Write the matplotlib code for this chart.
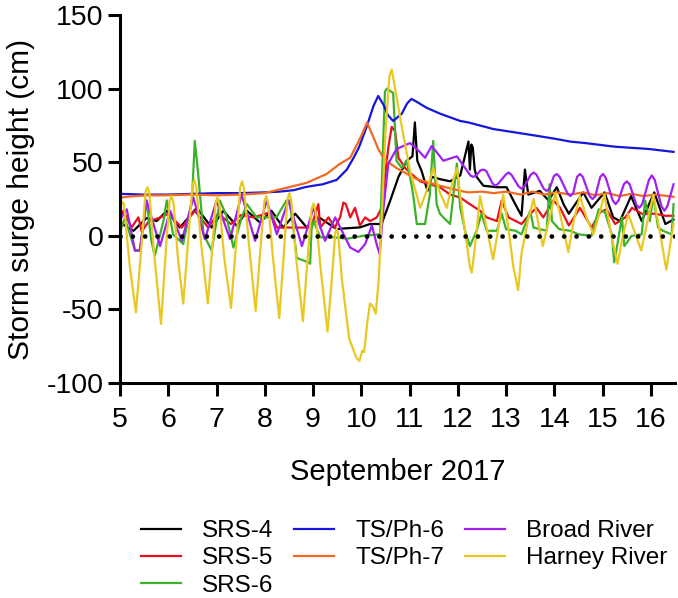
import numpy as np
import matplotlib
matplotlib.use("Agg")
import matplotlib.pyplot as plt

plt.rcParams['font.family'] = ['Liberation Sans', 'DejaVu Sans']
plt.rcParams['axes.unicode_minus'] = False

# ---------------------------------------------------------------
# data: (day of September 2017, surge in cm)
# ---------------------------------------------------------------
srs4 = [(5.0, 10), (5.14, 5.7), (5.28, 3.4), (5.55, 12), (5.76, 10), (5.97, 17), (6.24, 5.6),
        (6.59, 19), (6.9, 5.6), (7.14, 17), (7.42, 6.8), (7.63, 17), (7.9, 9), (8.14, 17),
        (8.38, 5.6), (8.63, 15), (8.87, 5.6), (9.15, 12), (9.49, 4.5), (9.64, 5), (9.97, 5.7),
        (10.18, 8), (10.42, 8), (10.6, 24), (10.77, 40), (10.94, 51), (11.06, 54), (11.11, 77),
        (11.16, 51), (11.25, 44), (11.37, 30.5), (11.46, 40), (11.63, 38.5), (11.84, 37),
        (12.05, 41), (12.22, 64), (12.25, 45), (12.28, 62), (12.31, 60), (12.35, 45), (12.39, 40),
        (12.53, 34), (12.81, 33), (13.01, 33), (13.19, 21.5), (13.32, 13.6), (13.39, 45),
        (13.46, 28), (13.7, 30.5), (13.88, 24), (14.05, 33), (14.19, 21.5), (14.3, 15),
        (14.6, 29.5), (14.77, 19), (15.04, 29.5), (15.22, 12.5), (15.36, 10), (15.59, 27),
        (15.81, 10), (16.07, 29.5), (16.3, 8), (16.47, 11)]

srs5 = [(5.0, 12.5), (5.07, 17), (5.24, 5.6), (5.38, 12.5), (5.45, 3), (5.6, 10), (5.8, 12),
        (6.0, 15), (6.28, 5.6), (6.55, 17), (6.83, 5.6), (7.03, 15), (7.3, 8), (7.5, 14),
        (7.77, 12.5), (8.11, 16), (8.25, 5.6), (8.8, 5.6), (8.92, 5.6), (9.0, 10), (9.11, 21.5),
        (9.15, 5.6), (9.32, 12.5), (9.45, 5.6), (9.56, 12.5), (9.63, 22.6), (9.68, 21.5),
        (9.77, 12.5), (9.87, 19), (9.97, 7), (10.08, 12.5), (10.18, 10), (10.32, 12.5),
        (10.42, 19), (10.49, 40), (10.56, 60), (10.63, 74), (10.7, 71), (10.77, 53), (10.91, 46),
        (11.04, 42), (11.22, 37), (11.42, 35), (11.63, 33), (11.84, 28), (12.05, 26),
        (12.25, 21.5), (12.46, 17), (12.6, 12.5), (12.81, 10), (12.91, 24), (13.05, 12.5),
        (13.32, 8), (13.46, 13.6), (13.63, 19), (13.77, 12.5), (13.98, 24), (14.12, 19),
        (14.3, 7), (14.53, 19), (14.77, 5.6), (14.95, 16), (15.08, 18), (15.26, 8), (15.47, 12.5),
        (15.61, 19), (15.81, 15), (16.09, 15), (16.3, 13.6), (16.47, 13.6)]

srs6 = [(5.0, 3), (5.1, 12), (5.31, -10), (5.41, -10), (5.55, 24), (5.65, -3.4), (5.72, -13.6),
        (5.9, 10), (5.97, 24), (6.1, 1), (6.31, -5.6), (6.49, 24), (6.55, 64.5), (6.62, 42),
        (6.73, 1), (6.9, -10), (7.07, 24), (7.2, 14), (7.35, -8), (7.52, 12.5), (7.63, 21.5),
        (7.83, 12.5), (8.04, 12.5), (8.24, 12.5), (8.45, 24), (8.51, 24), (8.59, 5.6),
        (8.66, -15), (8.9, -18), (8.94, -19), (8.97, 5), (9.01, 10), (9.15, -1), (9.42, -1),
        (9.7, -2), (10.04, 0), (10.39, 1), (10.45, 60), (10.49, 98), (10.53, 100), (10.66, 97),
        (10.73, 51), (10.84, 46), (10.94, 51), (11.04, 35), (11.09, 24), (11.15, 8), (11.32, 8),
        (11.42, 28), (11.49, 64.5), (11.56, 21.5), (11.63, 15), (11.7, 12.5), (11.84, 8),
        (11.94, 37), (11.98, 49), (12.05, 19), (12.15, 3.4), (12.25, -7), (12.39, 3.4),
        (12.49, 15), (12.6, 3.4), (12.81, 3.4), (12.91, 15), (13.0, 4.5), (13.2, 3.4),
        (13.32, 1), (13.5, 17), (13.57, 5.6), (13.84, 3.4), (13.9, 35), (13.95, 10),
        (14.1, 4.5), (14.33, 3.4), (14.5, 1), (14.77, 0), (14.92, 18), (15.05, 16), (15.19, 1),
        (15.24, -18), (15.3, -7), (15.4, 12.5), (15.45, -7), (15.6, 0), (15.81, 1), (15.88, 24),
        (15.98, 10), (16.05, 27), (16.15, 5.6), (16.25, 3.4), (16.43, 1), (16.47, 21.5)]

tsph6 = [(5.0, 28.5), (5.5, 28), (6.0, 28), (6.5, 28.5), (7.0, 29), (7.5, 29), (8.0, 29.5),
         (8.3, 30), (8.6, 31), (8.83, 33), (9.0, 34), (9.2, 35), (9.49, 38), (9.7, 45),
         (9.84, 53), (9.95, 60), (10.11, 74), (10.25, 88), (10.35, 95), (10.46, 89), (10.55, 82),
         (10.66, 78), (10.84, 83), (10.95, 90), (11.04, 93), (11.15, 91), (11.35, 87),
         (11.63, 83), (12.05, 78), (12.22, 77), (12.74, 72.5), (13.43, 69), (14.0, 66),
         (14.33, 64), (14.64, 63), (15.26, 60.5), (15.95, 59), (16.47, 57)]

tsph7 = [(5.0, 26), (5.3, 27), (5.6, 27.5), (6.0, 27.5), (6.5, 28), (7.0, 27.5), (7.5, 28),
         (8.0, 29), (8.18, 30.5), (8.5, 33), (8.87, 36), (9.28, 42), (9.56, 49), (9.77, 53),
         (9.91, 62), (10.0, 68), (10.12, 77), (10.25, 67), (10.35, 59), (10.46, 53), (10.6, 49),
         (10.73, 46), (11.15, 38.5), (11.63, 34), (12.05, 30.5), (12.22, 29.5), (12.5, 30),
         (12.74, 29), (13.0, 30), (13.3, 28), (13.55, 30), (13.8, 28), (14.05, 29.5), (14.33, 28),
         (14.6, 29.5), (14.85, 27.5), (15.1, 29), (15.35, 27), (15.6, 28.5), (15.85, 27),
         (16.1, 28), (16.47, 26.5)]

broad = [(5.0, 10), (5.03, 12.5), (5.14, 18), (5.31, -10), (5.41, -10), (5.55, 24), (5.83, -7),
         (6.04, 17), (6.28, -3.4), (6.52, 26), (6.76, -2.3), (7.0, 24), (7.28, -2.3), (7.52, 28),
         (7.8, -3.4), (8.04, 24), (8.25, 1), (8.49, 24), (8.77, -7), (9.01, 19), (9.25, -3.4),
         (9.46, 12.5), (9.7, -3.4), (9.77, -8), (9.94, -11), (10.08, -5.6), (10.22, 7),
         (10.32, -6), (10.38, -12.5), (10.46, 19), (10.56, 49), (10.73, 59), (11.01, 63),
         (11.18, 58), (11.32, 53), (11.46, 61), (11.7, 51), (11.98, 54), (12.26, 41),
         (12.32, 40), (12.38, 41), (12.47, 44.5), (12.53, 45), (12.59, 44), (12.72, 35.5),
         (12.78, 34), (12.84, 35.5), (12.99, 41.5), (13.05, 43), (13.11, 41.5), (13.26, 33.5),
         (13.32, 32), (13.38, 33.5), (13.51, 41.5), (13.57, 43), (13.63, 41.5), (13.78, 32),
         (13.84, 30.5), (13.9, 32), (13.99, 40.5), (14.05, 42), (14.11, 40), (14.27, 29),
         (14.33, 27), (14.39, 29), (14.47, 40), (14.53, 42), (14.59, 40), (14.73, 27),
         (14.79, 25), (14.85, 27), (14.95, 40), (15.01, 42), (15.07, 39), (15.21, 24),
         (15.27, 21.5), (15.33, 24), (15.44, 35), (15.5, 37), (15.56, 35), (15.7, 21),
         (15.76, 19), (15.82, 21.5), (15.96, 38), (16.02, 41), (16.08, 38), (16.22, 20),
         (16.28, 17), (16.34, 20), (16.47, 35)]

harney = [(5.0, 17), (5.04, 23), (5.08, 22), (5.2, -20), (5.33, -52), (5.45, -5), (5.53, 30),
          (5.57, 33), (5.61, 29), (5.7, -10), (5.85, -60), (5.96, -5), (6.03, 24), (6.07, 27),
          (6.11, 22), (6.2, -15), (6.31, -46), (6.42, 0), (6.5, 34), (6.54, 38), (6.58, 33),
          (6.68, -5), (6.82, -46), (6.92, -5), (6.98, 22), (7.02, 26), (7.06, 21), (7.16, -15),
          (7.3, -49), (7.42, 0), (7.49, 33), (7.53, 37), (7.57, 32), (7.67, -5), (7.81, -51),
          (7.92, -5), (7.99, 23), (8.03, 27), (8.07, 22), (8.17, -15), (8.3, -56), (8.41, -5),
          (8.47, 25), (8.51, 29), (8.55, 24), (8.65, -15), (8.79, -58), (8.9, -10), (8.97, 18),
          (9.01, 22), (9.05, 17), (9.15, -20), (9.3, -65), (9.4, -25), (9.46, 2), (9.49, 5),
          (9.52, 1), (9.6, -30), (9.75, -70), (9.9, -83), (9.96, -85), (10.02, -78), (10.06, -79),
          (10.12, -60), (10.18, -46), (10.24, -48), (10.3, -53), (10.36, -30), (10.42, 10),
          (10.5, 70), (10.58, 108), (10.63, 113), (10.7, 100), (10.84, 74), (11.01, 44),
          (11.22, 19), (11.35, 30), (11.49, 46), (11.62, 30), (11.77, 19), (11.88, 35),
          (11.98, 46), (12.1, 15), (12.25, -21), (12.29, -25), (12.38, 0), (12.46, 27), (12.6, 5),
          (12.73, -16), (12.84, 5), (12.94, 28), (13.05, 5), (13.15, -21), (13.25, -37),
          (13.32, -12), (13.45, 10), (13.57, 25), (13.66, 10), (13.76, -7), (13.9, 12),
          (14.02, 29), (14.15, 10), (14.29, -11), (14.4, 10), (14.53, 27), (14.67, 12),
          (14.81, 1), (14.93, 15), (15.04, 28), (15.18, 0), (15.31, -19), (15.42, 0), (15.53, 15),
          (15.67, 2), (15.8, -10), (15.93, 10), (16.05, 28), (16.2, 0), (16.32, -23), (16.47, 8)]

names = ['SRS-4', 'SRS-5', 'SRS-6', 'TS/Ph-6', 'TS/Ph-7', 'Broad River', 'Harney River']
colors = ['#000000', '#e8101e', '#3cb22a', '#1515dc', '#f26a22', '#a021ef', '#e9c824']
series = [srs4, srs5, srs6, tsph6, tsph7, broad, harney]

# ---------------------------------------------------------------
fig = plt.figure(figsize=(6.78, 5.98), dpi=100)
ax = fig.add_axes([120/678, 1 - 383/598, 555/678, 368/598])

for s, name, c in zip(series, names, colors):
    d = np.array(s)
    ax.plot(d[:, 0], d[:, 1], color=c, lw=1.6, label=name)

# zero reference line
ax.plot([5, 16.5], [0, 0], color='black', lw=3.4, linestyle=(0, (0.01, 2.6)),
        dash_capstyle='round', zorder=5)

ax.set_xlim(5, 16.5)
ax.set_ylim(-100, 150)
ax.set_xticks(range(5, 17))
ax.set_yticks(range(-100, 151, 50))
ax.spines['top'].set_visible(False)
ax.spines['right'].set_visible(False)
for sp in ['left', 'bottom']:
    ax.spines[sp].set_linewidth(2.2)
ax.tick_params(width=2.2, length=9, labelsize=20.5)
ax.tick_params(axis='x', pad=8.5)
ax.tick_params(axis='y', pad=3)

ax.set_ylabel('Storm surge height (cm)', fontsize=21.5, labelpad=8)
ax.set_xlabel('September 2017', fontsize=21, labelpad=18)

fig.legend(loc='upper left', bbox_to_anchor=(141/678, 1 - 520/598), ncol=3, frameon=False,
           fontsize=17.5, handlelength=1.65, handletextpad=0.86, columnspacing=0.85,
           labelspacing=0.22, borderpad=0, borderaxespad=0)

fig.savefig('out.png', dpi=100)
